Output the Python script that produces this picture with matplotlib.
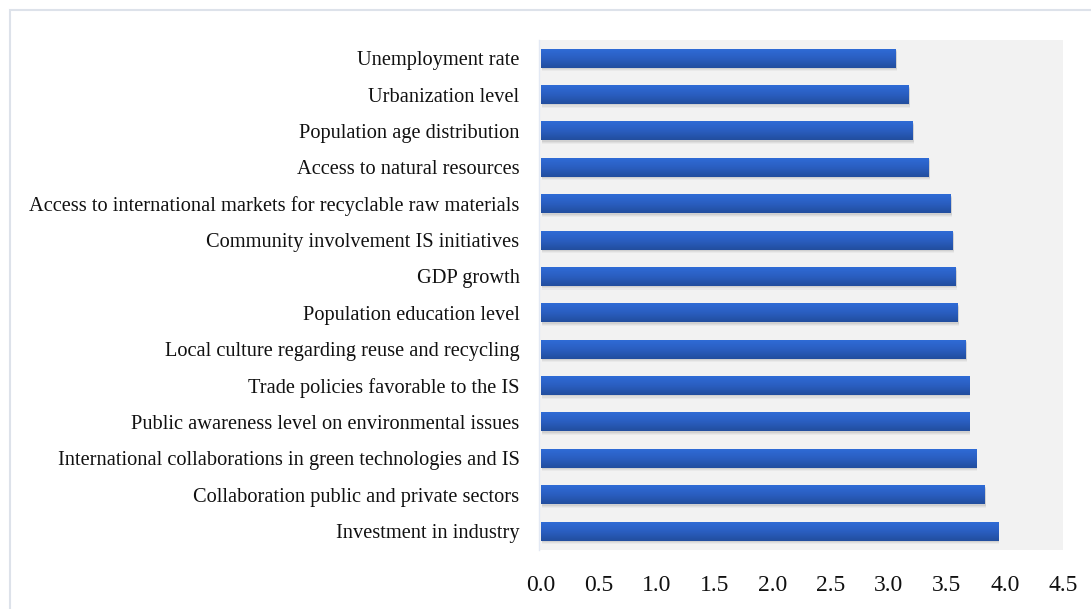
import matplotlib
matplotlib.use("Agg")
import matplotlib.pyplot as plt
import numpy as np
from matplotlib.patches import Rectangle

# Categories listed top to bottom
LABELS = [
    "Unemployment rate",
    "Urbanization level",
    "Population age distribution",
    "Access to natural resources",
    "Access to international markets for recyclable raw materials",
    "Community involvement IS initiatives",
    "GDP growth",
    "Population education level",
    "Local culture regarding reuse and recycling",
    "Trade policies favorable to the IS",
    "Public awareness level on environmental issues",
    "International collaborations in green technologies and IS",
    "Collaboration public and private sectors",
    "Investment in industry",
]
VALUES = [3.06, 3.17, 3.20, 3.34, 3.53, 3.55, 3.57, 3.59, 3.66, 3.69, 3.69, 3.75, 3.82, 3.94]
XTICKS = [0.0, 0.5, 1.0, 1.5, 2.0, 2.5, 3.0, 3.5, 4.0, 4.5]

plt.rcParams["font.family"] = ["Liberation Serif", "DejaVu Serif"]

W, H = 1091, 609
fig = plt.figure(figsize=(W / 100, H / 100), dpi=100)
ax = fig.add_axes([539 / W, 1 - 550 / H, (1063 - 539) / W, (550 - 40) / H])
ax.set_facecolor("#F2F2F2")

# outer frame of the chart area
fig.patches.append(Rectangle((10 / W, -0.1), 1.2, 1 - 10 / H + 0.1,
                             transform=fig.transFigure, fill=False,
                             edgecolor="#DDE2EA", linewidth=1.5))

y = np.arange(len(LABELS))
bar_h = 0.52

# soft shadow under each bar
for dy, a in [(0.10, 0.08), (0.07, 0.10), (0.04, 0.14)]:
    ax.barh(y + dy, VALUES, height=bar_h, left=0.012, color="#808080",
            alpha=a, linewidth=0, zorder=1)

bars = ax.barh(y, VALUES, height=bar_h, color="#2B63C6", linewidth=0, zorder=2)

# vertical gradient fill inside each bar (lighter on top, darker below)
grad = np.linspace(0, 1, 64).reshape(-1, 1)
cmap = matplotlib.colors.LinearSegmentedColormap.from_list(
    "bar", ["#2F6BD6", "#2A5EC0", "#224E9E"])
for b in bars:
    x0, y0 = b.get_x(), b.get_y()
    w, h = b.get_width(), b.get_height()
    im = ax.imshow(grad, cmap=cmap, aspect="auto", zorder=3, origin="upper",
                   extent=(x0, x0 + w, y0 + h, y0), interpolation="bicubic")
    im.set_clip_path(b)

ax.set_xlim(-0.017, 4.5)
ax.set_ylim(len(LABELS) - 0.48, -0.5)
ax.set_xticks(XTICKS)
ax.set_xticklabels([f"{v:.1f}" for v in XTICKS], fontsize=17, color="#111111")
ax.set_yticks(y)
ax.set_yticklabels(LABELS, fontsize=14.7, color="#111111")
ax.tick_params(axis="x", length=0, pad=18)
ax.tick_params(axis="y", length=0, pad=14)

for s in ["top", "right", "bottom"]:
    ax.spines[s].set_visible(False)
ax.spines["left"].set_color("#E3E9F4")
ax.spines["left"].set_linewidth(1.0)

fig.savefig("out.png", dpi=100)
